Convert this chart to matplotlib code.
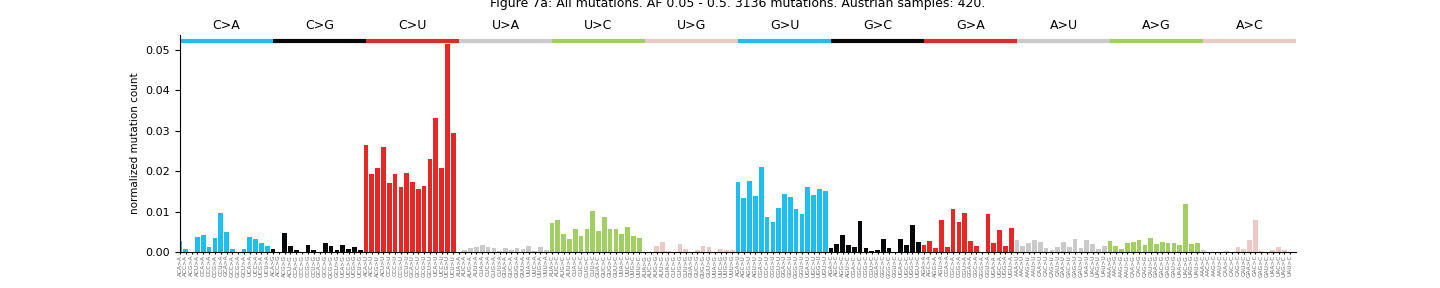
import numpy as np
import matplotlib
matplotlib.use("Agg")
import matplotlib.pyplot as plt
import matplotlib.transforms as mtransforms

title = "Figure 7a: All mutations. AF 0.05 - 0.5. 3136 mutations. Austrian samples: 420."

mutations = ["C>A", "C>G", "C>U", "U>A", "U>C", "U>G",
             "G>U", "G>C", "G>A", "A>U", "A>G", "A>C"]
colors = ["#1EBFF0", "#050708", "#E62725", "#CBCACB", "#A1CF64", "#EDC8C5"] * 2
bases = ["A", "C", "G", "U"]

# normalized counts, 16 contexts per mutation type (5' base x 3' base)
c_a = [0.0027, 0.0007, 0.0001, 0.0036, 0.0041, 0.0012, 0.0034, 0.0097,
       0.0050, 0.0007, 0.0001, 0.0007, 0.0036, 0.0032, 0.0022, 0.0014]
c_g = [0.0007, 0.0001, 0.0047, 0.0015, 0.0005, 0.0001, 0.0017, 0.0005,
       0.0001, 0.0022, 0.0014, 0.0005, 0.0017, 0.0007, 0.0012, 0.0005]
c_u = [0.0265, 0.0194, 0.0208, 0.0261, 0.0172, 0.0194, 0.0162, 0.0196,
       0.0174, 0.0157, 0.0164, 0.0231, 0.0333, 0.0208, 0.0515, 0.0294]
u_a = [0.0001, 0.0006, 0.0009, 0.0013, 0.0018, 0.0013, 0.0011, 0.0003,
       0.0011, 0.0004, 0.0011, 0.0008, 0.0016, 0.0002, 0.0013, 0.0005]
u_c = [0.0072, 0.0079, 0.0045, 0.0032, 0.0057, 0.0040, 0.0057, 0.0102,
       0.0052, 0.0087, 0.0057, 0.0057, 0.0045, 0.0062, 0.0040, 0.0035]
u_g = [0.0001, 0.0001, 0.0015, 0.0025, 0.0002, 0.0001, 0.0020, 0.0007,
       0.0001, 0.0005, 0.0015, 0.0012, 0.0001, 0.0007, 0.0005, 0.0005]
g_u = [0.0173, 0.0134, 0.0176, 0.0139, 0.0210, 0.0087, 0.0074, 0.0109,
       0.0144, 0.0136, 0.0106, 0.0094, 0.0161, 0.0141, 0.0156, 0.0151]
g_c = [0.0010, 0.0020, 0.0042, 0.0017, 0.0012, 0.0077, 0.0010, 0.0002,
       0.0005, 0.0032, 0.0010, 0.0001, 0.0032, 0.0017, 0.0067, 0.0025]
g_a = [0.0017, 0.0027, 0.0010, 0.0079, 0.0012, 0.0106, 0.0074, 0.0097,
       0.0027, 0.0015, 0.0001, 0.0094, 0.0022, 0.0054, 0.0015, 0.0059]
a_u = [0.0030, 0.0015, 0.0022, 0.0030, 0.0025, 0.0010, 0.0005, 0.0012,
       0.0025, 0.0012, 0.0032, 0.0010, 0.0030, 0.0020, 0.0007, 0.0015]
a_g = [0.0027, 0.0015, 0.0007, 0.0022, 0.0025, 0.0030, 0.0017, 0.0035,
       0.0020, 0.0025, 0.0022, 0.0022, 0.0017, 0.0120, 0.0020, 0.0022]
a_c = [0.0005, 0.0001, 0.0001, 0.0001, 0.0002, 0.0001, 0.0012, 0.0007,
       0.0030, 0.0080, 0.0002, 0.0001, 0.0005, 0.0012, 0.0005, 0.0001]

blocks = [c_a, c_g, c_u, u_a, u_c, u_g, g_u, g_c, g_a, a_u, a_g, a_c]

labels, values, bar_colors = [], [], []
for mut, block, col in zip(mutations, blocks, colors):
    ref, alt = mut.split(">")
    for i, five in enumerate(bases):
        for j, three in enumerate(bases):
            labels.append(f"{five}{ref}{three}>{alt}")
            values.append(block[4 * i + j])
            bar_colors.append(col)

x = np.arange(len(values))

fig = plt.figure(figsize=(14.4, 2.88), dpi=100)
ax = fig.add_axes([0.125, 0.125, 0.775, 0.753])
ax.bar(x, values, width=0.8, color=bar_colors)
ax.set_xlim(0, len(values))
ax.set_ylim(0, 0.0537)
ax.set_yticks([0, 0.01, 0.02, 0.03, 0.04, 0.05])
ax.set_yticklabels(["0.00", "0.01", "0.02", "0.03", "0.04", "0.05"])
ax.tick_params(axis="y", labelsize=8)
ax.set_xticks(x)
ax.set_xticklabels(labels, rotation=90, fontsize=4.2, color="#666666")
ax.tick_params(axis="x", length=1.5, pad=0.5)
ax.set_ylabel("normalized mutation count", fontsize=7.5)
ax.spines["top"].set_visible(False)
ax.spines["right"].set_visible(False)

# coloured strip and mutation names above the bars
trans = mtransforms.blended_transform_factory(ax.transData, ax.transAxes)
for k, (mut, col) in enumerate(zip(mutations, colors)):
    ax.plot([16 * k, 16 * k + 16], [0.0522, 0.0522], color=col, lw=3,
            solid_capstyle="butt", clip_on=False)
    ax.text(16 * k + 8, 1.015, mut, transform=trans, ha="center",
            va="bottom", fontsize=9)

ax.set_title(title, fontsize=9, pad=20)

fig.savefig("out.png", dpi=100)
